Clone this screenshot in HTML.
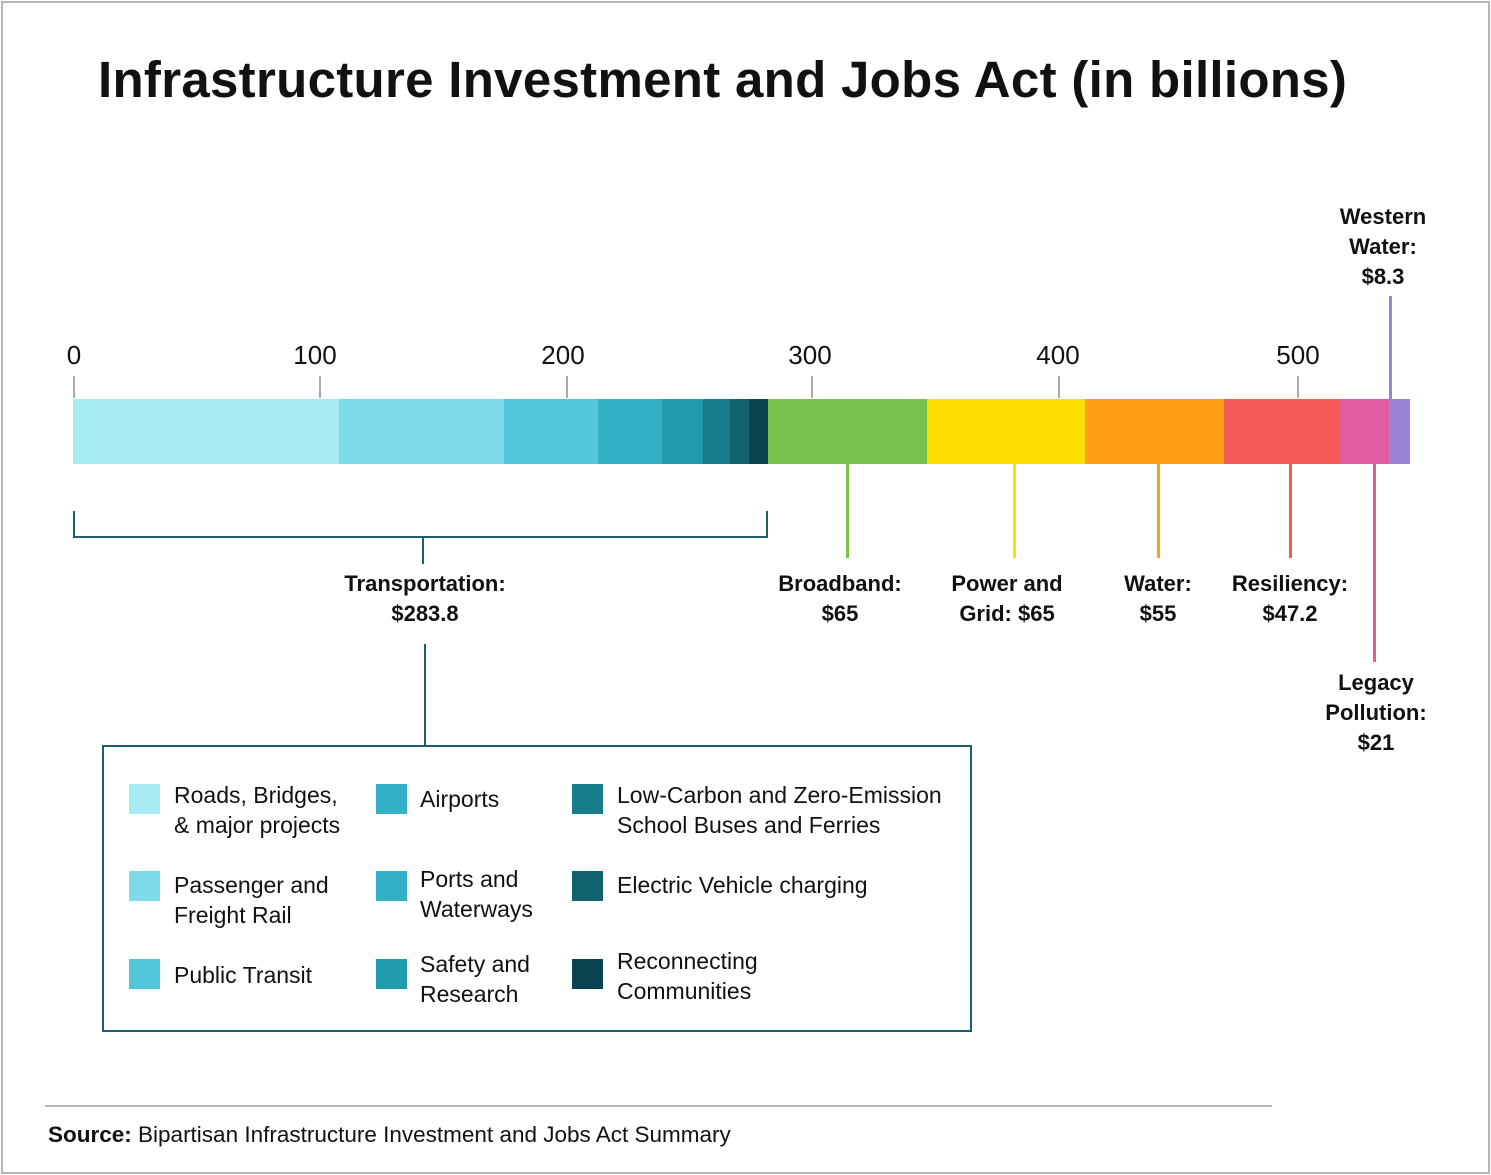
<!DOCTYPE html>
<html><head><style>
body{margin:0;background:#fff}
#c{position:relative;width:1491px;height:1175px;overflow:hidden;font-family:"Liberation Sans",sans-serif;color:#111}
.a{position:absolute}
.t{position:absolute;font-size:23px;line-height:30px;white-space:nowrap}
.b{font-weight:bold;text-align:center;font-size:22px}
.tk{position:absolute;top:376px;width:2px;height:22px;background:#aaa}
.n{position:absolute;top:340px;font-size:26px;width:100px;text-align:center}
.sw{position:absolute;width:31px;height:30px}
</style></head><body><div id="c">
<div class="a" style="left:1px;top:1px;width:1485px;height:1169px;border:2px solid #b5b5b5"></div>
<div class="a" style="left:98px;top:50px;font-size:51px;font-weight:bold;letter-spacing:0.3px;white-space:nowrap">Infrastructure Investment and Jobs Act (in billions)</div>

<div class="n" style="left:24px">0</div><div class="n" style="left:265px">100</div><div class="n" style="left:513px">200</div><div class="n" style="left:760px">300</div><div class="n" style="left:1008px">400</div><div class="n" style="left:1248px">500</div>
<div class="tk" style="left:73px"></div><div class="tk" style="left:319px"></div><div class="tk" style="left:566px"></div><div class="tk" style="left:811px"></div><div class="tk" style="left:1058px"></div><div class="tk" style="left:1297px"></div>

<div class="a" style="left:73px;top:399px;width:266px;height:65px;background:#a8eaf4"></div>
<div class="a" style="left:339px;top:399px;width:165px;height:65px;background:#7ddae9"></div>
<div class="a" style="left:504px;top:399px;width:94px;height:65px;background:#52c6da"></div>
<div class="a" style="left:598px;top:399px;width:64px;height:65px;background:#33b0c6"></div>
<div class="a" style="left:662px;top:399px;width:41px;height:65px;background:#219aac"></div>
<div class="a" style="left:703px;top:399px;width:27px;height:65px;background:#177c8a"></div>
<div class="a" style="left:730px;top:399px;width:19px;height:65px;background:#10626e"></div>
<div class="a" style="left:749px;top:399px;width:19px;height:65px;background:#0a4250"></div>
<div class="a" style="left:768px;top:399px;width:159px;height:65px;background:#78c14c"></div>
<div class="a" style="left:927px;top:399px;width:158px;height:65px;background:#fede00"></div>
<div class="a" style="left:1085px;top:399px;width:139px;height:65px;background:#fc9d14"></div>
<div class="a" style="left:1224px;top:399px;width:115px;height:65px;background:#f55b56"></div>
<div class="a" style="left:1339px;top:399px;width:50px;height:65px;background:#e15ba0"></div>
<div class="a" style="left:1389px;top:399px;width:21px;height:65px;background:#9b82d6"></div>

<div class="a" style="left:846px;top:464px;width:3px;height:94px;background:#78c14c"></div>
<div class="a" style="left:1013px;top:464px;width:3px;height:94px;background:#fede00"></div>
<div class="a" style="left:1157px;top:464px;width:3px;height:94px;background:#fc9d14"></div>
<div class="a" style="left:1289px;top:464px;width:3px;height:94px;background:#f55b56"></div>
<div class="a" style="left:1373px;top:464px;width:3px;height:198px;background:#e15ba0"></div>
<div class="a" style="left:1389px;top:296px;width:3px;height:104px;background:#9b82d6"></div>

<div class="a" style="left:73px;top:511px;width:2px;height:27px;background:#1c5f75"></div>
<div class="a" style="left:766px;top:511px;width:2px;height:27px;background:#1c5f75"></div>
<div class="a" style="left:73px;top:536px;width:695px;height:2px;background:#1c5f75"></div>
<div class="a" style="left:422px;top:536px;width:2px;height:28px;background:#1c5f75"></div>
<div class="a" style="left:424px;top:644px;width:2px;height:102px;background:#1c5f75"></div>

<div class="t b" style="left:325px;top:569px;width:200px">Transportation:<br>$283.8</div>
<div class="t b" style="left:740px;top:569px;width:200px">Broadband:<br>$65</div>
<div class="t b" style="left:907px;top:569px;width:200px">Power and<br>Grid: $65</div>
<div class="t b" style="left:1058px;top:569px;width:200px">Water:<br>$55</div>
<div class="t b" style="left:1190px;top:569px;width:200px">Resiliency:<br>$47.2</div>
<div class="t b" style="left:1276px;top:668px;width:200px">Legacy<br>Pollution:<br>$21</div>
<div class="t b" style="left:1283px;top:202px;width:200px">Western<br>Water:<br>$8.3</div>

<div class="a" style="left:102px;top:745px;width:866px;height:283px;border:2px solid #1c5f75"></div>
<div class="sw" style="left:129px;top:784px;background:#a8eaf4"></div>
<div class="sw" style="left:129px;top:871px;background:#7ddae9"></div>
<div class="sw" style="left:129px;top:959px;background:#52c6da"></div>
<div class="sw" style="left:376px;top:784px;background:#33b0c6"></div>
<div class="sw" style="left:376px;top:871px;background:#33b0c6"></div>
<div class="sw" style="left:376px;top:959px;background:#219aac"></div>
<div class="sw" style="left:572px;top:784px;background:#177c8a"></div>
<div class="sw" style="left:572px;top:871px;background:#10626e"></div>
<div class="sw" style="left:572px;top:959px;background:#0a4250"></div>
<div class="t" style="left:174px;top:780px">Roads, Bridges,<br>&amp; major projects</div>
<div class="t" style="left:174px;top:870px">Passenger and<br>Freight Rail</div>
<div class="t" style="left:174px;top:960px">Public Transit</div>
<div class="t" style="left:420px;top:784px">Airports</div>
<div class="t" style="left:420px;top:864px">Ports and<br>Waterways</div>
<div class="t" style="left:420px;top:949px">Safety and<br>Research</div>
<div class="t" style="left:617px;top:780px">Low-Carbon and Zero-Emission<br>School Buses and Ferries</div>
<div class="t" style="left:617px;top:870px">Electric Vehicle charging</div>
<div class="t" style="left:617px;top:946px">Reconnecting<br>Communities</div>

<div class="a" style="left:45px;top:1105px;width:1227px;height:2px;background:#b5b5b5"></div>
<div class="t" style="left:48px;top:1120px;font-size:22.5px"><b>Source:</b> Bipartisan Infrastructure Investment and Jobs Act Summary</div>
</div></body></html>
